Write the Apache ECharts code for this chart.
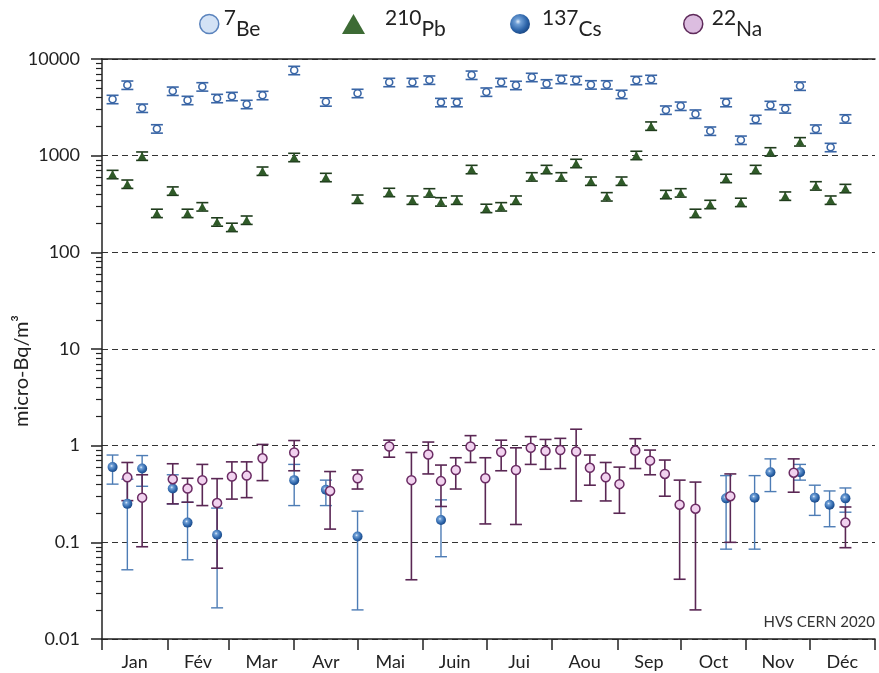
<!DOCTYPE html>
<html><head><meta charset="utf-8">
<script src="https://cdn.jsdelivr.net/npm/echarts@6/dist/echarts.min.js"></script>
<style>html,body{margin:0;padding:0;background:#fff}#c{width:879px;height:673px}</style>
</head><body><div id="c"></div>
<script>
// ---------- axis / tick data ----------
const monthLabels = ['Jan','Fév','Mar','Avr','Mai','Juin','Jui','Aou','Sep','Oct','Nov','Déc'];
const monthStarts = [0,31,60,91,121,152,182,213,244,274,305,335,366];
const yTickValues = [0.01,0.1,1,10,100,1000,10000];
const yTickLabels = ['0.01','0.1','1','10','100','1000','10000'];

// ---------- 7Be and 210Pb (same weekly filters, day of year) ----------
const filterDays = [5,12,19,26,33.5,40.5,47.5,54.5,61.5,68.5,76,91,106,121,136,147,155,160.5,168,175,182,189,196,203.5,210.5,217.5,224.5,231.5,239,246,253,260,267,274,281,288,295.5,302.5,309.5,316.5,323.5,330.5,338,345,352];
const beValues = [3830,5380,3110,1900,4660,3740,5170,3920,4110,3400,4210,7640,3610,4420,5740,5740,6070,3560,3560,6820,4560,5740,5350,6470,5550,6170,6020,5420,5420,4320,6020,6170,2970,3260,2700,1800,3560,1450,2380,3320,3060,5260,1890,1220,2410];
const pbValues = [641,509,993,254,432,254,297,207,182,216,694,962,597,356,418,348,414,334,348,722,286,297,348,606,722,606,834,547,377,547,1010,2030,398,414,254,314,584,330,722,1099,383,1397,489,348,459];
const beRelUnc = 0.10;
const pbRelUnc = 0.10;

// ---------- 137Cs ----------
const csDays = [5,12,19,33.5,40.5,54.5,91,106,121,160.5,295.5,309,316.5,330.5,337.5,344.5,352];
const csValues = [0.60,0.25,0.58,0.36,0.16,0.12,0.44,0.35,0.115,0.17,0.285,0.29,0.53,0.53,0.29,0.245,0.285];
const csLow = [0.40,0.052,0.38,0.25,0.066,0.021,0.24,0.24,0.020,0.071,0.085,0.085,0.335,0.44,0.19,0.145,0.205];
const csHigh = [0.80,0.45,0.79,0.50,0.26,0.226,0.64,0.44,0.21,0.275,0.49,0.49,0.73,0.64,0.39,0.34,0.365];

// ---------- 22Na ----------
const naDays = [12,19,33.5,40.5,47.5,54.5,61.5,68.5,76,91,108,121,136,146.5,154.5,160.5,167.5,174.5,181.5,189,196,203,210,217,224.5,231,238.5,245,252.5,259.5,266.5,273.5,281,297.5,327.5,352];
const naValues = [0.47,0.29,0.45,0.36,0.44,0.255,0.48,0.49,0.74,0.85,0.34,0.46,0.98,0.44,0.81,0.43,0.56,0.98,0.46,0.86,0.56,0.95,0.88,0.90,0.87,0.59,0.47,0.40,0.89,0.70,0.51,0.245,0.223,0.30,0.525,0.16];
const naLow = [0.27,0.09,0.25,0.26,0.24,0.054,0.28,0.29,0.435,0.55,0.137,0.356,0.76,0.041,0.51,0.235,0.356,0.67,0.155,0.55,0.153,0.64,0.57,0.58,0.268,0.39,0.268,0.20,0.58,0.50,0.30,0.0415,0.020,0.10,0.33,0.088];
const naHigh = [0.67,0.50,0.65,0.46,0.64,0.456,0.68,0.68,1.03,1.13,0.54,0.56,1.14,0.85,1.09,0.63,0.75,1.27,0.75,1.14,0.95,1.24,1.16,1.19,1.48,0.80,0.67,0.60,1.18,0.90,0.71,0.44,0.42,0.51,0.73,0.232];

const legendMass = ['7','210','137','22'];
const legendElem = ['Be','Pb','Cs','Na'];

// ---------- build ----------
const monthMids = monthLabels.map((m,i)=>(monthStarts[i]+monthStarts[i+1])/2);

const FONT = 'Lato';
const AX = '#222';

function errRender(color, capHalf, lw){
  return function(params, api){
    const x = api.value(0), lo = api.value(1), hi = api.value(2);
    const a = api.coord([x, lo]), b = api.coord([x, hi]);
    const st = {stroke:color, lineWidth:lw};
    return {type:'group', children:[
      {type:'line', shape:{x1:a[0],y1:a[1],x2:b[0],y2:b[1]}, style:st},
      {type:'line', shape:{x1:a[0]-capHalf,y1:a[1],x2:a[0]+capHalf,y2:a[1]}, style:st},
      {type:'line', shape:{x1:b[0]-capHalf,y1:b[1],x2:b[0]+capHalf,y2:b[1]}, style:st}
    ]};
  };
}

const beErr = filterDays.map((d,i)=>[d, beValues[i]*(1-beRelUnc), beValues[i]*(1+beRelUnc)]);
const pbErr = filterDays.map((d,i)=>[d, pbValues[i]*(1-pbRelUnc), pbValues[i]*(1+pbRelUnc)]);
const csErr = csDays.map((d,i)=>[d, csLow[i], csHigh[i]]);
const naErr = naDays.map((d,i)=>[d, naLow[i], naHigh[i]]);

const names = legendElem.map((e,i)=>legendMass[i]+e);

const csGrad = {type:'radial', x:0.4, y:0.38, r:0.65, colorStops:[
  {offset:0,color:'#e3eefa'},{offset:0.22,color:'#6f9fd6'},{offset:0.7,color:'#2b63a8'},{offset:1,color:'#1a4682'}]};

function legendRich(extraLeft){
  return {
    n:{fontSize:21, fontFamily:FONT, color:AX, padding:[0,0,11,extraLeft]},
    e:{fontSize:21, fontFamily:FONT, color:AX, padding:[11,0,0,0]}
  };
}
function mkLegend(i, left, icon, w, h, style, extraLeft){
  return {
    data:[{name:names[i], icon:icon, itemStyle:style}],
    left:left, top:8, itemWidth:w, itemHeight:h, itemGap:0, padding:0,
    selectedMode:false,
    formatter: ()=>'{n|'+legendMass[i]+'}{e|'+legendElem[i]+'}',
    textStyle:{rich:legendRich(extraLeft)}
  };
}

const option = {
  backgroundColor:'#fff',
  animation:false,
  grid:{left:102, right:4, top:59, bottom:34, containLabel:false},
  legend:[
    mkLegend(0, 199, 'circle', 19, 19, {color:'#d3e2f5', borderColor:'#5a83bd', borderWidth:1.5}, 0),
    mkLegend(1, 342, 'triangle', 23, 20, {color:'#3d6b35', borderWidth:0}, 15),
    mkLegend(2, 510, 'circle', 20, 20, {color:csGrad, borderWidth:0}, 7),
    mkLegend(3, 683, 'circle', 19, 19, {color:'#dcbde0', borderColor:'#5e2a5a', borderWidth:1.5}, 4)
  ],
  graphic:[
    {type:'text', x:22, y:371, rotation:Math.PI/2, style:{text:'micro-Bq/m³', font:'20px Lato', fill:AX, align:'center', verticalAlign:'middle'}},
    {type:'text', x:875, y:622, style:{text:'HVS CERN 2020', font:'15px Lato', fill:'#333', align:'right', verticalAlign:'middle'}, z:10}
  ],
  xAxis:[{
    type:'value', min:0, max:366,
    axisLine:{show:true, onZero:false, lineStyle:{color:AX, width:1.5}},
    axisTick:{show:true, customValues:monthStarts, length:11, lineStyle:{color:AX, width:1.5}},
    axisLabel:{show:true, customValues:monthMids, margin:14, fontSize:18, fontFamily:FONT, color:AX,
      formatter:v=>{const i=monthMids.findIndex(m=>Math.abs(m-v)<1e-6); return i>=0?monthLabels[i]:'';}},
    splitLine:{show:false}
  },{
    type:'value', min:0, max:366, position:'top',
    axisLine:{show:true, onZero:false, lineStyle:{color:AX, width:1.5}},
    axisTick:{show:false}, axisLabel:{show:false}, splitLine:{show:false}
  }],
  yAxis:[{
    type:'log', logBase:10, min:0.01, max:10000, splitNumber:6,
    axisLine:{show:true, onZero:false, lineStyle:{color:AX, width:1.5}},
    axisTick:{show:true, length:11, lineStyle:{color:AX, width:1.5}},
    minorTick:{show:true, splitNumber:9, length:6, lineStyle:{color:AX, width:1.2}},
    axisLabel:{show:true, margin:22, fontSize:18, fontFamily:FONT, color:AX,
      formatter:v=>{const i=yTickValues.findIndex(t=>Math.abs(Math.log10(t)-Math.log10(v))<1e-6); return i>=0?yTickLabels[i]:'';}},
    splitLine:{show:true, lineStyle:{type:[6,4], color:'#333', width:1}},
    minorSplitLine:{show:false}
  }],
  series:[
    {type:'custom', name:names[0]+'_err', data:beErr, renderItem:errRender('#3a66a6',6,1.6), encode:{x:0,y:[1,2]}, z:2, silent:true},
    {type:'scatter', name:names[0], data:filterDays.map((d,i)=>[d,beValues[i]]), symbol:'circle', symbolSize:7,
      itemStyle:{color:'#ffffff', borderColor:'#3a66a6', borderWidth:1.6, opacity:1}, z:3},
    {type:'custom', name:names[1]+'_err', data:pbErr, renderItem:errRender('#1f3b1c',6,1.6), encode:{x:0,y:[1,2]}, z:2, silent:true},
    {type:'scatter', name:names[1], data:filterDays.map((d,i)=>[d,pbValues[i]]), symbol:'triangle', symbolSize:[9,8],
      itemStyle:{color:'#2f5a28', opacity:1}, z:3},
    {type:'custom', name:names[2]+'_err', data:csErr, renderItem:errRender('#4d7cb5',6,1.4), encode:{x:0,y:[1,2]}, z:2, silent:true},
    {type:'scatter', name:names[2], data:csDays.map((d,i)=>[d,csValues[i]]), symbol:'circle', symbolSize:10,
      itemStyle:{color:csGrad, opacity:1}, z:3},
    {type:'custom', name:names[3]+'_err', data:naErr, renderItem:errRender('#5a2754',6,1.6), encode:{x:0,y:[1,2]}, z:2, silent:true},
    {type:'scatter', name:names[3], data:naDays.map((d,i)=>[d,naValues[i]]), symbol:'circle', symbolSize:9,
      itemStyle:{color:'#f1d2ef', borderColor:'#6b2c64', borderWidth:1.5, opacity:1}, z:3}
  ]
};
const chart = echarts.init(document.getElementById('c'), null, {renderer:'canvas'});
chart.setOption(option);
</script></body></html>
